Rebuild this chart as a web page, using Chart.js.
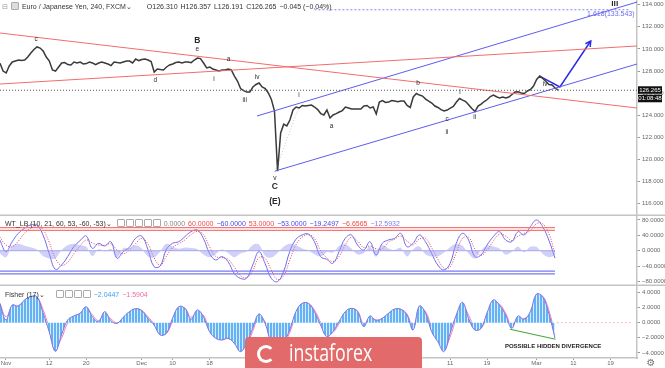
<!DOCTYPE html>
<html>
<head>
<meta charset="utf-8">
<script src="https://cdn.jsdelivr.net/npm/chart.js@4.4.1/dist/chart.umd.min.js"></script>
<style>
  html, body { margin: 0; padding: 0; background: #fff; }
  #wrap { position: relative; width: 665px; height: 368px; overflow: hidden; font-family: "Liberation Sans", Arial, sans-serif; }
  canvas { position: absolute; left: 0; }
  .hdr { position: absolute; font-size: 7px; line-height: 9px; color: #333; white-space: nowrap; }
  .hdr span { margin-right: 3px; }
  .ico { display: inline-block; width: 6px; height: 6px; border: 1px solid #aaa; border-radius: 1px; vertical-align: -1px; margin-right: 1px !important; }
  #wm { position: absolute; left: 245px; top: 337px; width: 177px; height: 40px; background: rgb(226,106,106); border-radius: 4px; }
  #wm .logo { position: absolute; left: 12px; top: 8px; width: 12px; height: 12px; border: 3px solid #fff; border-right-color: transparent; border-radius: 50%; }
  #wm .txt { position: absolute; left: 44px; top: -2px; font-family: "Open Sans", sans-serif; font-size: 24px; color: #fff; transform: scaleX(0.74); transform-origin: left top; }
</style>
</head>
<body>
<div id="wrap">
  <canvas id="price" width="665" height="216" style="top:0"></canvas>
  <canvas id="wt" width="665" height="70" style="top:216px"></canvas>
  <canvas id="fisher" width="665" height="82" style="top:286px"></canvas>

  <div class="hdr" style="left:2px;top:2px;">
    <span style="color:#999">&#8863;</span><span class="ico" style="background:#ddd"></span>
    <span>Euro / Japanese Yen, 240, FXCM&#8964;</span>
    <span style="margin-left:10px">O126.310</span><span>H126.357</span><span>L126.191</span><span>C126.265</span><span>&minus;0.045 (&minus;0.04%)</span>
  </div>
  <div class="hdr" style="left:5px;top:219px;">
    <span>WT_LB (10, 21, 60, 53, -60, -53)&#8964;</span>
    <span class="ico"></span><span class="ico"></span><span class="ico"></span><span class="ico"></span><span class="ico"></span>
    <span style="color:#888">0.0000</span><span style="color:#e84a4a">60.0000</span><span style="color:#4a4ae8">&minus;60.0000</span><span style="color:#e84a4a">53.0000</span><span style="color:#4a4ae8">&minus;53.0000</span><span style="color:#4a4ae8">&minus;19.2497</span><span style="color:#e84a4a">&minus;6.6565</span><span style="color:#7a7af0">&minus;12.5932</span>
  </div>
  <div class="hdr" style="left:5px;top:290px;">
    <span>Fisher (17)&#8964;</span>
    <span class="ico" style="margin-left:6px"></span><span class="ico"></span><span class="ico"></span><span class="ico"></span>
    <span style="color:#3aa0f0">&minus;2.0447</span><span style="color:#f06aa0">&minus;1.5904</span>
  </div>
  <div id="wm"><div class="logo"></div><div class="txt">instaforex</div></div>
</div>

<script>
// x unit: trading days counted from 1 Nov (Nov 1 = 0)
const closeStartDay = -0.97;
const closeStepDays = 0.5;
const closes = [
  128.70, 128.00, 127.83, 128.46, 128.82, 128.91, 129.00, 128.95, 129.00, 129.27,
  129.63, 129.95, 130.18, 130.08, 129.81, 129.27, 128.91, 128.10, 128.00, 128.37,
  128.73, 128.77, 128.59, 128.55, 128.82, 128.73, 128.82, 128.64, 128.68, 128.82,
  128.73, 128.59, 128.73, 128.82, 128.73, 128.64, 128.50, 128.82, 128.77, 128.73,
  128.82, 128.91, 128.91, 128.73, 129.09, 128.95, 129.04, 129.09, 129.00, 128.86,
  127.91, 128.19, 128.14, 128.10, 128.37, 128.55, 128.64, 128.77, 128.82, 128.73,
  128.82, 128.82, 128.76, 129.00, 129.18, 129.13, 128.73, 128.28, 128.37, 128.19,
  128.10, 128.00, 128.10, 128.10, 128.19, 128.10, 127.55, 127.10, 126.42, 126.24,
  126.10, 126.10, 126.56, 126.79, 126.92, 126.56, 126.42, 126.02, 125.43, 124.39,
  118.95, 122.40, 123.20, 123.04, 123.58, 124.48, 124.75, 124.66, 124.89, 124.84,
  124.89, 124.93, 124.75, 124.52, 124.16, 124.03, 124.48, 123.76, 124.03, 124.16,
  124.30, 124.43, 124.75, 124.66, 124.57, 124.57, 124.57, 124.57, 124.84, 124.89,
  124.66, 124.75, 124.12, 125.20, 125.34, 125.16, 125.20, 125.34, 125.29, 125.23,
  125.29, 125.29, 124.89, 124.71, 125.66, 125.97, 125.83, 125.74, 125.47, 125.29,
  125.11, 124.84, 124.71, 124.52, 124.39, 124.48, 124.66, 124.80, 125.20, 125.52,
  125.38, 125.25, 124.93, 124.61, 124.34, 124.84, 125.02, 125.25, 125.43, 125.70,
  125.83, 125.68, 125.56, 125.65, 125.56, 125.65, 125.88, 126.10, 126.13, 126.02,
  125.97, 126.20, 126.33, 126.65, 127.24, 127.55, 127.33, 127.06, 126.79, 126.74,
  126.47, 126.27
];
const lastPrice = 126.265;

// drawn trend lines, [day, price]
const redUpperLine = [[-0.97, 131.44], [102.3, 124.66]];
const redLowerLine = [[-0.97, 126.83], [102.3, 130.27]];
const blueUpperLine = [[40.7, 123.94], [102.3, 134.24]];
const blueLowerLine = [[43.6, 118.96], [102.3, 128.64]];
const projectionPath = [[86.5, 127.55], [89.8, 126.56], [94.8, 130.72]];
const guideLine = [[43.6, 118.9], [47.5, 124.78]];
const fibLevel = 133.543;
const fibSpan = [50, 101.1];

// wave labels: text, day, price
const waveLabels = [
  ['c', 4.9, 130.90], ['e', 31.0, 129.99], ['a', 36.1, 129.09], ['d', 24.2, 127.19],
  ['i', 33.7, 127.28], ['iv', 40.7, 127.46], ['iii', 38.7, 125.38], ['i', 47.5, 125.83],
  ['v', 43.6, 118.33], ['a', 52.8, 123.03], ['b', 66.8, 126.92], ['c', 71.5, 123.67],
  ['ii', 71.5, 122.49], ['i', 73.6, 126.11], ['ii', 76.0, 123.85], ['iv', 87.4, 126.85]
];
const bigLabels = [['B', 31.0, 130.72], ['C', 43.6, 117.52], ['(E)', 43.6, 116.16], ['iii', 98.7, 134.05]];

// oscillators, one value per trading day
const oscStartDay = -1;
const wt1 = [
  27.8, -2.5, 23.4, 45.1, 58.1, 66.7, 66.7, 40.8, -6.9, -48.4,
  -37.2, -15.5, 10.4, 26.0, 38.2, 6.1, 19.1, 12.2, 23.4, -19.9,
  -2.5, 8.7, 32.1, 38.2, 3.5, -41.5, -39.8, 3.5, 19.1, 23.4,
  36.4, 49.4, 53.7, 32.1, -6.9, -24.2, -15.5, -28.5, -58.8, -71.8,
  -71.8, -37.2, -2.5, -32.9, -71.8, -80.5, -54.5, -2.5, 29.5, 40.8,
  43.3, 23.4, -15.5, -22.5, -32.9, -2.5, 32.1, 40.8, 14.8, 1.8,
  23.4, -11.2, 19.1, 27.8, 32.1, 45.1, 10.4, 19.1, 40.8, 23.4,
  -6.9, -37.2, -50.2, -32.9, 19.1, 45.1, 27.8, -15.5, -11.2, 14.8,
  36.4, 49.4, 27.8, 23.4, 49.4, 40.8, 62.4, 79.7, 62.4, 27.8,
  -19.2
];
const wt2 = [
  35, 15, 10, 25, 45, 58, 64, 55, 22, -20,
  -38, -30, -8, 12, 28, 20, 15, 14, 18, 2,
  -8, 2, 18, 32, 18, -18, -38, -15, 8, 18,
  28, 42, 50, 42, 10, -15, -18, -22, -42, -65,
  -70, -52, -18, -20, -50, -75, -65, -25, 15, 35,
  42, 32, 0, -18, -28, -15, 15, 35, 25, 8,
  12, 5, 5, 22, 30, 38, 25, 15, 30, 32,
  8, -22, -45, -42, -5, 32, 35, 5, -12, 2,
  25, 43, 38, 26, 38, 45, 52, 70, 70, 45,
  -6.7
];
const wtHist = [
  -7, -17, 13, 18, 13, 9, 3, -14, -20, -20,
  1, 14, 18, 14, 10, -14, 4, -2, 5, -18,
  6, 7, 14, 6, -15, -18, -2, 18, 11, 5,
  8, 7, 4, -10, -17, -9, 3, -6, -17, -7,
  -2, 15, 16, -13, -18, -6, 10, 18, 14, 6,
  1, -9, -15, -4, -5, 12, 17, 6, -10, -6,
  11, -16, 14, 6, 2, 7, -15, 4, 11, -9,
  -15, -15, -5, 9, 18, 13, -7, -20, 1, 13,
  11, 6, -10, -3, 11, -4, 10, 10, -8, -17,
  -12.6
];
const wtLevels = [60, 53, -53, -60];
const fisher = [
  2.56, 0.36, 2.34, 2.21, 3.01, 3.45, 3.45, 1.33, -1.19, -3.80,
  -1.63, 0.36, 0.89, 1.24, 2.12, 0.80, 0.14, 1.46, 0.27, -0.09,
  0.71, 1.46, 1.86, 1.59, 0.58, -0.31, -1.63, -1.41, 0.58, 2.12,
  1.90, 0.45, 1.68, 0.80, -1.19, -2.07, -2.29, -2.07, -2.73, -3.84,
  -2.73, -0.75, 1.15, -0.09, -2.73, -3.84, -2.65, -0.97, 1.46, 2.56,
  2.56, 1.46, -0.31, -1.85, -1.19, 0.14, 1.46, 1.90, 1.46, -0.53,
  0.89, 0.27, 0.58, 1.24, 1.81, 1.77, 1.02, -0.97, 2.21, 1.33,
  -1.19, -2.51, -3.84, -1.41, 1.02, 2.70, 0.58, -0.97, -0.75, 1.33,
  3.01, 2.34, 1.02, -0.75, 0.89, 0.45, 1.46, 3.80, 3.45, 1.24,
  -2.04
];
const fisherTrigger = [
  2.60, 0.80, 1.94, 2.24, 2.85, 3.36, 3.45, 1.75, -0.69, -3.28,
  -2.06, -0.04, 0.78, 1.17, 1.94, 1.06, 0.27, 1.20, 0.51, -0.02,
  0.55, 1.31, 1.78, 1.64, 0.78, -0.13, -1.37, -1.45, 0.18, 1.81,
  1.94, 0.74, 1.43, 0.98, -0.79, -1.89, -2.25, -2.11, -2.60, -3.62,
  -2.95, -1.15, 0.77, 0.16, -2.20, -3.62, -2.89, -1.31, 0.97, 2.34,
  2.56, 1.68, 0.04, -1.54, -1.32, -0.13, 1.20, 1.81, 1.55, -0.13,
  0.61, 0.39, 0.52, 1.11, 1.70, 1.78, 1.17, -0.57, 1.57, 1.51,
  -0.69, -2.25, -3.57, -1.90, 0.53, 2.36, 1.00, -0.66, -0.79, 0.91,
  2.67, 2.47, 1.28, -0.40, 0.56, 0.54, 1.26, 3.33, 3.52, 1.68,
  -1.59
];
const divergenceLine = [[81.7, -0.87], [89.1, -2.2]];
const divergenceText = ['POSSIBLE HIDDEN DIVERGENCE', 88.7, -3.18];
const fisherZeroTail = [89.3, 101.5];

// axis ticks
const priceTicks = [116, 118, 120, 122, 124, 126, 128, 130, 132, 134];
const wtTicks = [80, 40, 0, -40, -80];
const fisherTicks = [4, 2, 0, -2, -4];
const dateTickDays = [0, 7, 13, 22, 27, 33, 43, 50, 58, 66, 72, 78, 86, 92, 98];
const dateTickLabels = ['Nov', '12', '20', 'Dec', '10', '18', 'Jan', '10', '21', 'Feb', '11', '19', 'Mar', '11', '19'];

const FONT = '"Liberation Sans", Arial, sans-serif';
const X_MIN = -0.97, X_MAX = 102.3;
const AXIS_W = 28;

const pts = (pairs) => pairs.map(([x, y]) => ({ x, y }));
const series = (vals, start, step) => vals.map((v, i) => ({ x: start + i * step, y: v }));
const lineDs = (data, color, extra) => Object.assign({
  type: 'line', data, borderColor: color, borderWidth: 1, pointRadius: 0, fill: false, tension: 0
}, extra || {});
const noPad = (s) => { s.paddingTop = 0; s.paddingBottom = 0; s.paddingLeft = 0; s.paddingRight = 0; };

function yAxis(min, max, ticks, digits) {
  return {
    position: 'right', min, max,
    afterFit: (s) => { s.width = AXIS_W; noPad(s); },
    afterBuildTicks: (s) => { s.ticks = ticks.map((v) => ({ value: v })); },
    border: { display: true, color: '#c4c4c4', width: 1.5 },
    grid: { drawOnChartArea: false, drawTicks: true, tickLength: 3, color: '#999' },
    ticks: { font: { size: 6, family: FONT }, color: '#666', padding: 2,
      callback: (v) => (v < 0 ? '\u2212' + Math.abs(v).toFixed(digits) : v.toFixed(digits)) }
  };
}
const hiddenX = { type: 'linear', min: X_MIN, max: X_MAX, display: false };
const baseOpts = {
  responsive: false, animation: false, events: [],
  layout: { padding: 0 },
  plugins: { legend: { display: false }, tooltip: { enabled: false } }
};

function bottomRule(color) {
  return {
    id: 'rule',
    afterDraw(chart) {
      const ctx = chart.ctx;
      ctx.save();
      ctx.strokeStyle = color; ctx.lineWidth = 1.5;
      ctx.beginPath(); ctx.moveTo(0, chart.height - 0.75); ctx.lineTo(chart.width, chart.height - 0.75); ctx.stroke();
      ctx.restore();
    }
  };
}

// ---------------- price panel ----------------
const priceDecor = {
  id: 'priceDecor',
  afterDatasetsDraw(chart) {
    const { ctx, scales: { x, y } } = chart;
    ctx.save();
    ctx.textAlign = 'center'; ctx.textBaseline = 'middle'; ctx.fillStyle = '#2a2a2a';
    ctx.font = '6.5px ' + FONT;
    waveLabels.forEach(([t, d, p]) => ctx.fillText(t, x.getPixelForValue(d), y.getPixelForValue(p)));
    ctx.font = 'bold 8.5px ' + FONT;
    bigLabels.forEach(([t, d, p]) => ctx.fillText(t, x.getPixelForValue(d), y.getPixelForValue(p)));
    // fib label
    ctx.font = '7px ' + FONT; ctx.fillStyle = '#6b6bf2'; ctx.textAlign = 'right';
    ctx.fillText('1.618(' + fibLevel.toFixed(3) + ')', x.getPixelForValue(fibSpan[1]) + 5, y.getPixelForValue(fibLevel) + 4);
    // arrow head on projection
    const a = projectionPath[projectionPath.length - 2], b = projectionPath[projectionPath.length - 1];
    const ax = x.getPixelForValue(a[0]), ay = y.getPixelForValue(a[1]);
    const bx = x.getPixelForValue(b[0]), by = y.getPixelForValue(b[1]);
    const ang = Math.atan2(by - ay, bx - ax);
    ctx.strokeStyle = '#2b2be6'; ctx.lineWidth = 1.5;
    ctx.beginPath();
    ctx.moveTo(bx - 6 * Math.cos(ang - 0.5), by - 6 * Math.sin(ang - 0.5));
    ctx.lineTo(bx, by);
    ctx.lineTo(bx - 6 * Math.cos(ang + 0.5), by - 6 * Math.sin(ang + 0.5));
    ctx.stroke();
    ctx.restore();
  },
  afterDraw(chart) {
    const { ctx, scales: { y } } = chart;
    const py = y.getPixelForValue(lastPrice);
    const left = chart.chartArea.right + 1;
    ctx.save();
    ctx.fillStyle = '#111';
    ctx.fillRect(left, py - 4, 24, 7.5);
    ctx.fillRect(left, py + 4.5, 24, 7.5);
    ctx.fillStyle = '#fff'; ctx.font = '6px ' + FONT; ctx.textAlign = 'center'; ctx.textBaseline = 'middle';
    ctx.fillText(lastPrice.toFixed(3), left + 12, py);
    ctx.fillText('01:08:48', left + 12, py + 8.5);
    ctx.restore();
  }
};

new Chart(document.getElementById('price'), {
  type: 'line',
  data: {
    datasets: [
      lineDs(pts([[X_MIN, lastPrice], [X_MAX, lastPrice]]), '#555', { borderDash: [1, 2] }),
      lineDs(pts(redUpperLine), 'rgb(242,108,108)'),
      lineDs(pts(redLowerLine), 'rgb(242,108,108)'),
      lineDs(pts(blueUpperLine), 'rgb(92,92,240)'),
      lineDs(pts(blueLowerLine), 'rgb(92,92,240)'),
      lineDs(pts([[fibSpan[0], fibLevel], [fibSpan[1], fibLevel]]), 'rgb(130,130,245)', { borderDash: [2, 2] }),
      lineDs(pts(guideLine), 'rgba(150,150,150,0.5)', { borderDash: [1, 2] }),
      lineDs(series(closes, closeStartDay, closeStepDays), '#3a3a3a', { borderWidth: 1.5 }),
      lineDs(pts(projectionPath), '#2b2be6', { borderWidth: 1.5 })
    ]
  },
  options: Object.assign({}, baseOpts, {
    scales: { x: hiddenX, y: yAxis(114.9, 134.425, priceTicks, 3) }
  }),
  plugins: [priceDecor, bottomRule('#c4c4c4')]
});

// ---------------- WT panel ----------------
const wtEnd = oscStartDay + wt1.length - 1;
const wtDatasets = [
  lineDs(series(wtHist, oscStartDay, 1), 'rgba(0,0,0,0)', { borderWidth: 0, fill: 'origin', backgroundColor: 'rgba(150,150,240,0.45)', tension: 0.35 }),
  lineDs(pts([[oscStartDay, 0], [wtEnd, 0]]), 'rgba(150,150,235,0.8)')
];
wtLevels.forEach((lv) => {
  const c = lv > 0 ? 'rgb(245,120,120)' : 'rgb(120,120,240)';
  wtDatasets.push(lineDs(pts([[oscStartDay, lv], [wtEnd, lv]]), c, { borderWidth: 1.2 }));
});
wtDatasets.push(
  lineDs(series(wt1, oscStartDay, 1), 'rgb(108,108,240)', { tension: 0.4 }),
  lineDs(series(wt2, oscStartDay, 1), 'rgb(232,60,80)', { tension: 0.4, borderDash: [1, 1.5] })
);
new Chart(document.getElementById('wt'), {
  type: 'line',
  data: { datasets: wtDatasets },
  options: Object.assign({}, baseOpts, {
    scales: { x: hiddenX, y: yAxis(-91.7, 90.1, wtTicks, 4) }
  }),
  plugins: [bottomRule('#c4c4c4')]
});

// ---------------- Fisher panel ----------------
const fctx = document.getElementById('fisher').getContext('2d');
const stripeCanvas = document.createElement('canvas');
stripeCanvas.width = 3; stripeCanvas.height = 1;
const sc = stripeCanvas.getContext('2d');
sc.fillStyle = 'rgb(98,178,244)'; sc.fillRect(0, 0, 2, 1);
sc.fillStyle = 'rgb(215,235,252)'; sc.fillRect(2, 0, 1, 1);
const stripes = fctx.createPattern(stripeCanvas, 'repeat');

const fisherDecor = {
  id: 'fisherDecor',
  afterDatasetsDraw(chart) {
    const { ctx, scales: { x, y } } = chart;
    ctx.save();
    ctx.font = 'bold 6px ' + FONT; ctx.fillStyle = '#222'; ctx.textAlign = 'center'; ctx.textBaseline = 'middle';
    ctx.fillText(divergenceText[0], x.getPixelForValue(divergenceText[1]), y.getPixelForValue(divergenceText[2]));
    ctx.restore();
  },
  afterDraw(chart) {
    const ctx = chart.ctx;
    ctx.save();
    ctx.fillStyle = '#777'; ctx.font = '10px "DejaVu Sans", sans-serif'; ctx.textAlign = 'center'; ctx.textBaseline = 'middle';
    ctx.fillText('\u2699', chart.chartArea.right + 14, chart.height - 5);
    ctx.restore();
  }
};

new Chart(fctx, {
  type: 'line',
  data: {
    datasets: [
      lineDs(series(fisher, oscStartDay, 1), 'rgb(125,115,225)', { tension: 0.4, fill: 'origin', backgroundColor: stripes }),
      lineDs(series(fisherTrigger, oscStartDay, 1), 'rgb(242,130,185)', { tension: 0.4 }),
      lineDs(pts([[fisherZeroTail[0], 0], [fisherZeroTail[1], 0]]), 'rgba(240,150,150,0.7)', { borderDash: [2, 2] }),
      lineDs(pts(divergenceLine), 'rgb(70,170,60)', { borderWidth: 1.2 })
    ]
  },
  options: Object.assign({}, baseOpts, {
    scales: {
      x: {
        type: 'linear', min: X_MIN, max: X_MAX, position: 'bottom',
        afterFit: (s) => { s.height = 10; noPad(s); },
        afterBuildTicks: (s) => { s.ticks = dateTickDays.map((v) => ({ value: v })); },
        border: { display: true, color: '#c4c4c4', width: 1.5 },
        grid: { drawOnChartArea: false, drawTicks: true, tickLength: 2, color: '#999' },
        ticks: { autoSkip: false, maxRotation: 0, padding: 0, font: { size: 6, family: FONT }, color: '#666',
          callback: (v, i) => dateTickLabels[i] }
      },
      y: yAxis(-4.68, 4.86, fisherTicks, 4)
    }
  }),
  plugins: [fisherDecor]
});
</script>
</body>
</html>
